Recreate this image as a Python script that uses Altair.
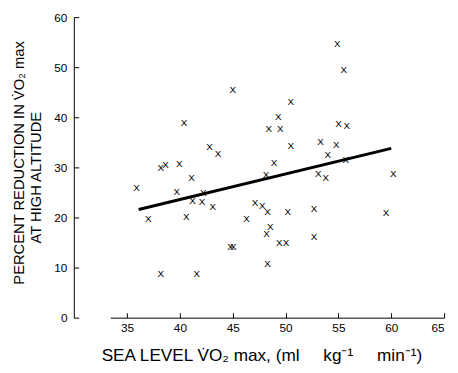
import altair as alt
import pandas as pd

# Data
sea_level_vo2 = [40.4, 42.8, 43.6, 38.2, 38.65, 39.95, 41.1, 35.9, 39.7, 41.2,
                 42.2, 42.1, 43.1, 37.0, 40.6, 38.2, 41.6, 54.9, 55.5, 45.0,
                 50.5, 49.3, 48.4, 49.5, 55.0, 55.8, 50.5, 53.3, 54.8, 54.0,
                 48.9, 48.15, 55.7, 53.1, 53.8, 47.1, 47.8, 48.3, 50.2, 52.7,
                 46.3, 48.55, 48.2, 49.4, 50.05, 52.7, 44.8, 45.05, 48.3, 60.2,
                 59.5]
pct_reduction = [38.9, 34.0, 32.7, 29.9, 30.4, 30.6, 27.9, 25.8, 25.0, 23.2,
                 24.8, 23.1, 22.1, 19.6, 20.1, 8.8, 8.8, 54.6, 49.5, 45.5,
                 43.1, 40.1, 37.7, 37.7, 38.7, 38.2, 34.2, 35.0, 34.4, 32.5,
                 30.8, 28.4, 31.4, 28.6, 27.9, 22.9, 22.2, 21.0, 21.0, 21.6,
                 19.6, 18.1, 16.7, 14.9, 14.9, 16.1, 14.1, 14.1, 10.8, 28.6,
                 20.9]
fit_x = [36.1, 60.0]
fit_y = [21.6, 33.8]
x_ticks = [35, 40, 45, 50, 55, 60, 65]
y_ticks = [0, 10, 20, 30, 40, 50, 60]

pts = pd.DataFrame({"x": sea_level_vo2, "y": pct_reduction})
fit = pd.DataFrame({"x": fit_x, "y": fit_y})

FONT = "Liberation Sans"
W, H = 340, 306
X_DOM = [33.4, 65]
Y_DOM = [0, 60]
NB = "\u00a0"

xscale = alt.Scale(domain=X_DOM, nice=False, zero=False)
yscale = alt.Scale(domain=Y_DOM, nice=False, zero=False)

x_title = ("SEA LEVEL V\u0307O\u2082 max, (ml" + NB * 5 + "kg\u207b\u00b9" + NB * 5
           + "min\u207b\u00b9)")

x_axis = alt.Axis(
    values=x_ticks, tickSize=0, labelPadding=5, grid=False,
    domainColor="black", domainWidth=1,
    labelColor="black", labelFont=FONT, labelFontSize=12,
    title=x_title,
    titleFont=FONT, titleFontSize=17.5, titleFontWeight="normal", titleColor="black",
    titleX=154, titleY=44, titleAlign="center", titleBaseline="alphabetic",
)
y_axis = alt.Axis(
    values=y_ticks, tickSize=0, labelPadding=7, grid=False, offset=37,
    domainColor="black", domainWidth=1,
    labelColor="black", labelFont=FONT, labelFontSize=12,
    title="PERCENT REDUCTION IN V\u0307O\u2082 max",
    titleFont=FONT, titleFontSize=15, titleFontWeight="normal", titleColor="black",
    titleX=-51, titleY=148, titleAngle=270, titleAlign="center",
    titleBaseline="alphabetic",
)

points = alt.Chart(pts).mark_text(
    text="X", font=FONT, fontSize=10, color="black", baseline="middle", align="center"
).encode(
    x=alt.X("x:Q", scale=xscale, axis=x_axis),
    y=alt.Y("y:Q", scale=yscale, axis=y_axis),
)

line = alt.Chart(fit).mark_line(color="black", strokeWidth=3).encode(
    x=alt.X("x:Q", scale=xscale),
    y=alt.Y("y:Q", scale=yscale),
)

main = alt.layer(points, line)

# Inward-pointing tick marks via mirrored axes; the mirrored y axis also
# carries the second line of the y title.
tick_layer = alt.Chart(pts).mark_point(opacity=0).encode(
    x=alt.X("x:Q", scale=xscale, axis=alt.Axis(
        orient="top", offset=-H, values=x_ticks, labels=False, domain=False,
        ticks=True, tickSize=5, tickColor="black", tickWidth=1, grid=False,
        title="")),
    y=alt.Y("y:Q", scale=yscale, axis=alt.Axis(
        orient="right", offset=-(W + 37), values=y_ticks, labels=False, domain=False,
        ticks=True, tickSize=5, tickColor="black", tickWidth=1, grid=False,
        title="AT HIGH ALTITUDE",
        titleFont=FONT, titleFontSize=15, titleFontWeight="normal", titleColor="black",
        titleX=-34, titleY=163, titleAngle=270, titleAlign="center",
        titleBaseline="alphabetic")),
)

chart = alt.layer(main, tick_layer).resolve_scale(
    x="independent", y="independent"
).properties(
    width=W, height=H,
    autosize=alt.AutoSizeParams(type="none"),
    padding={"left": 104, "top": 6, "right": 6, "bottom": 50},
    background="white",
).configure_view(stroke=None)

chart.save("out.html", embed_options={"renderer": "svg", "actions": False})
